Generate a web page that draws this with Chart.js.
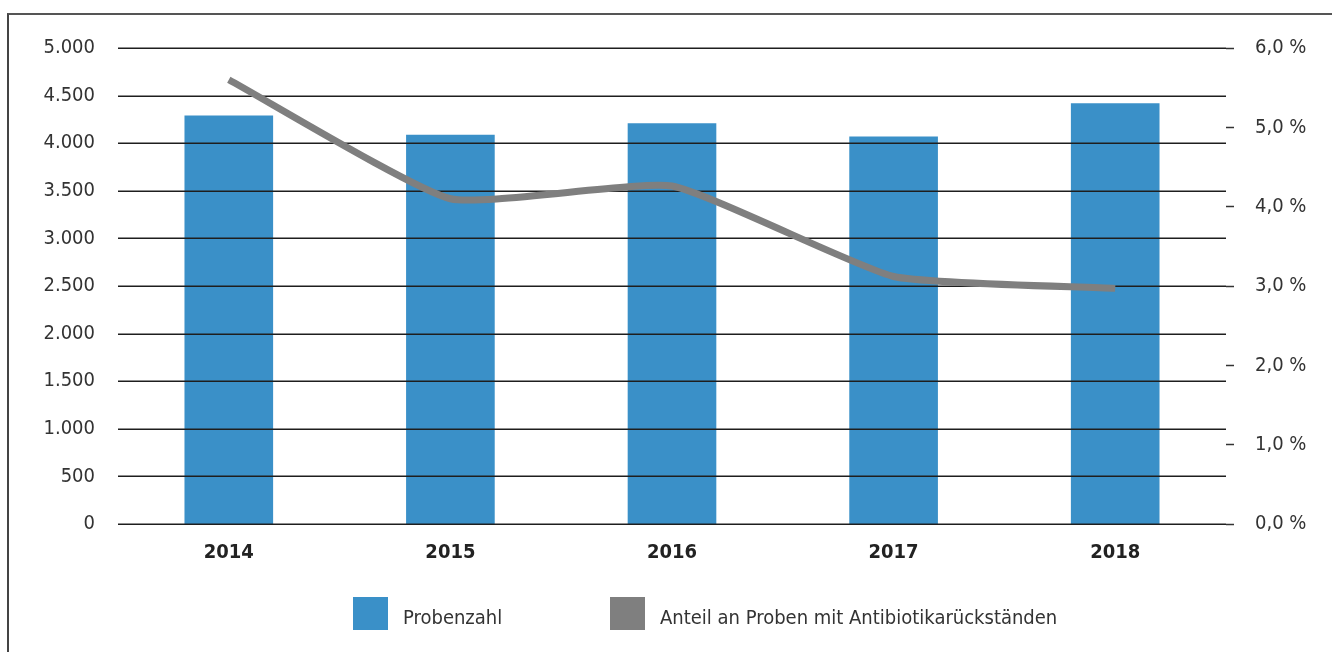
<!DOCTYPE html>
<html lang="de">
<head>
<meta charset="utf-8">
<title>Probenzahl und Antibiotikarückstände</title>
<script src="https://cdn.jsdelivr.net/npm/chart.js@4.4.1/dist/chart.umd.min.js"></script>
<style>
    html, body { margin: 0; padding: 0; background: #fff; }
    #wrap { position: relative; width: 1332px; height: 652px; overflow: hidden; }
    #frame {
        position: absolute; left: 7px; top: 13px; width: 1400px; height: 700px;
        border-left: 2px solid #444; border-top: 2px solid #555;
    }
    #chart { position: absolute; left: 0; top: 0; }
    .legend { position: absolute; top: 597px; font: 20px "Liberation Sans Narrow", "DejaVu Sans Condensed", sans-serif; color: #333; }
    .legend span.box { position: absolute; top: 0; width: 35px; height: 33px; }
    .legend span.label { position: absolute; top: 8px; white-space: nowrap; }
</style>
</head>
<body>
<div id="wrap">
    <div id="frame"></div>
    <canvas id="chart" width="1332" height="652"></canvas>
    <div class="legend" style="left:353px">
        <span class="box" style="left:0; background:#3a90c8"></span>
        <span class="label" style="left:50px">Probenzahl</span>
    </div>
    <div class="legend" style="left:610px">
        <span class="box" style="left:0; background:#7f7f7f"></span>
        <span class="label" style="left:50px">Anteil an Proben mit Antibiotikarückständen</span>
    </div>
</div>
<script>
// Jahre und Messwerte
var years = ['2014', '2015', '2016', '2017', '2018'];
var probenzahl = [4290, 4090, 4210, 4070, 4420];
var anteilProzent = [5.6, 4.1, 4.26, 3.12, 2.97];

var barColor = '#3a90c8';
var lineColor = '#7f7f7f';
var gridColor = '#1e1e1e';
var fontFamily = '"Liberation Sans Narrow", "DejaVu Sans Condensed", sans-serif';

function formatThousands(v) {
    return v.toString().replace(/\B(?=(\d{3})+(?!\d))/g, '.');
}

// Horizontal lines are drawn over the bars but below the line series
var gridOverBars = {
    id: 'gridOverBars',
    beforeDatasetDraw: function(chart, args) {
        if (args.index !== 1) return;
        var ctx = chart.ctx;
        var area = chart.chartArea;
        var y = chart.scales.y;
        ctx.save();
        ctx.strokeStyle = gridColor;
        ctx.lineWidth = 1.5;
        y.ticks.forEach(function(t) {
            var py = Math.round(y.getPixelForValue(t.value)) + 0.25;
            ctx.beginPath();
            ctx.moveTo(area.left, py);
            ctx.lineTo(area.right, py);
            ctx.stroke();
        });
        ctx.restore();
    }
};

var ctx = document.getElementById('chart').getContext('2d');
var chart = new Chart(ctx, {
    type: 'bar',
    data: {
        labels: years,
        datasets: [
            {
                type: 'bar',
                label: 'Probenzahl',
                data: probenzahl,
                backgroundColor: barColor,
                yAxisID: 'y',
                barPercentage: 0.4,
                categoryPercentage: 1,
                order: 1
            },
            {
                type: 'line',
                label: 'Anteil an Proben mit Antibiotikarückständen',
                data: anteilProzent,
                borderColor: lineColor,
                borderWidth: 7,
                pointRadius: 0,
                tension: 0.15,
                yAxisID: 'y2',
                order: 0
            }
        ]
    },
    plugins: [gridOverBars],
    options: {
        responsive: false,
        animation: false,
        layout: { padding: { left: 0, right: 0, top: 48, bottom: 78 } },
        plugins: {
            legend: { display: false },
            tooltip: { enabled: false }
        },
        scales: {
            x: {
                offset: true,
                grid: { display: false, drawTicks: false },
                border: { display: false },
                ticks: {
                    padding: 17,
                    color: '#222',
                    font: { family: fontFamily, size: 20, weight: 'bold' }
                },
                afterFit: function(scale) { scale.height = 50; }
            },
            y: {
                position: 'left',
                min: 0,
                max: 5000,
                grid: { display: false, drawTicks: false },
                border: { display: false },
                ticks: {
                    stepSize: 500,
                    padding: 23,
                    color: '#333',
                    font: { family: fontFamily, size: 20 },
                    callback: function(v) { return formatThousands(v); }
                },
                afterFit: function(scale) { scale.width = 118; }
            },
            y2: {
                position: 'right',
                min: 0,
                max: 6,
                grid: {
                    drawOnChartArea: false,
                    drawTicks: true,
                    tickLength: 8,
                    tickWidth: 1.5,
                    tickColor: '#333'
                },
                border: { display: false },
                ticks: {
                    stepSize: 1,
                    padding: 21,
                    color: '#333',
                    font: { family: fontFamily, size: 20 },
                    callback: function(v) { return v.toFixed(1).replace('.', ',') + ' %'; }
                },
                afterFit: function(scale) { scale.width = 106; }
            }
        }
    }
});
</script>
</body>
</html>
